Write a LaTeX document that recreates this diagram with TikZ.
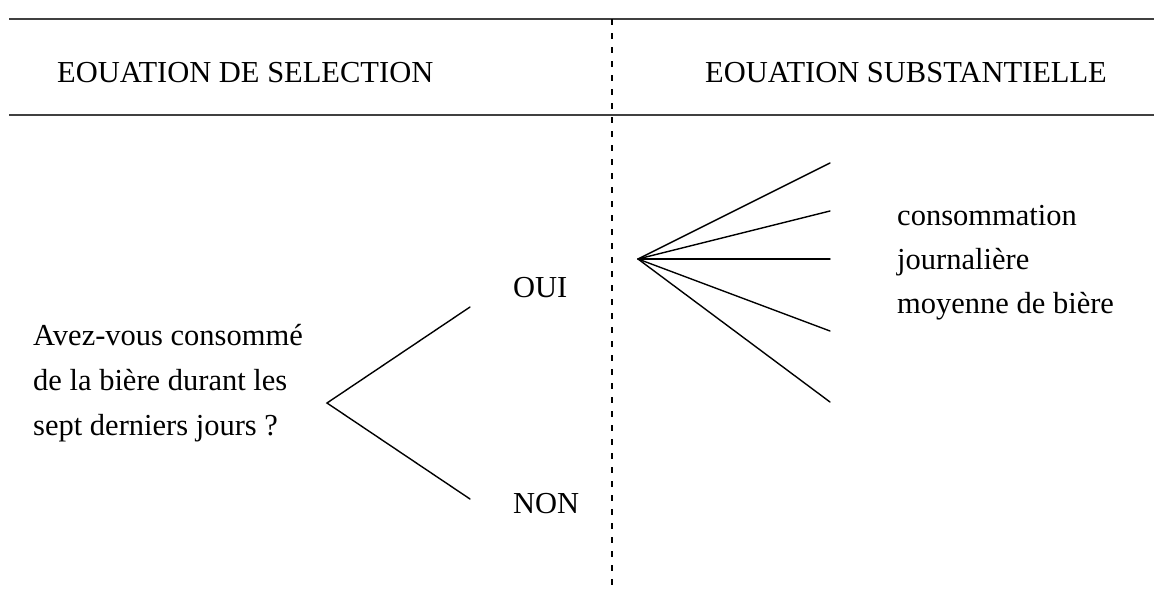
\documentclass[tikz,border=0pt]{standalone}
\usepackage{fontspec}
\setmainfont{Liberation Serif}
\begin{document}
\begin{tikzpicture}[x=1pt,y=-1pt,
  txt/.style={inner sep=0pt,anchor=base west,font=\fontsize{30.5pt}{44pt}\selectfont},
  rule/.style={line width=1.5pt,draw=black!75},
  sep/.style={line width=1.5pt,dash pattern=on 6pt off 8pt},
  branch/.style={line width=1.4pt,line cap=round}]
\useasboundingbox (0,0) rectangle (1154,592);
% rules
\coordinate (t1) at (9,19);
\coordinate (t2) at (1154,19);
\coordinate (h1) at (9,115);
\coordinate (h2) at (1154,115);
\draw[rule] (t1) -- (t2);
\draw[rule] (h1) -- (h2);
\coordinate (d1) at (612,19);
\coordinate (d2) at (612,588);
\draw[sep] (d1) -- (d2);
% headers
\node[txt] (hs) at (57,82) {EOUATION DE SELECTION};
\node[txt] (hb) at (705,82) {EOUATION SUBSTANTIELLE};
% question
\node[txt] (q1) at (33,345) {Avez-vous consommé};
\node[txt] (q2) at (33,390) {de la bière durant les};
\node[txt] (q3) at (33,435) {sept derniers jours ?};
% fork
\coordinate (fv) at (327,403);
\coordinate (fo) at (470,307);
\coordinate (fn) at (470,499);
\draw[branch] (fo) -- (fv) -- (fn);
\node[txt] (oui) at (513,297) {OUI};
\node[txt] (non) at (513,513) {NON};
% fan
\coordinate (gv) at (638,259);
\coordinate (g1) at (830,163);
\coordinate (g2) at (830,211);
\coordinate (g3) at (830,259);
\coordinate (g4) at (830,331);
\coordinate (g5) at (830,402);
\foreach \e in {g1,g2,g3,g4,g5} \draw[branch] (gv) -- (\e);
% outcome
\node[txt] (c1) at (897,225) {consommation};
\node[txt] (c2) at (897,269) {journalière};
\node[txt] (c3) at (897,313) {moyenne de bière};
\end{tikzpicture}
\end{document}
